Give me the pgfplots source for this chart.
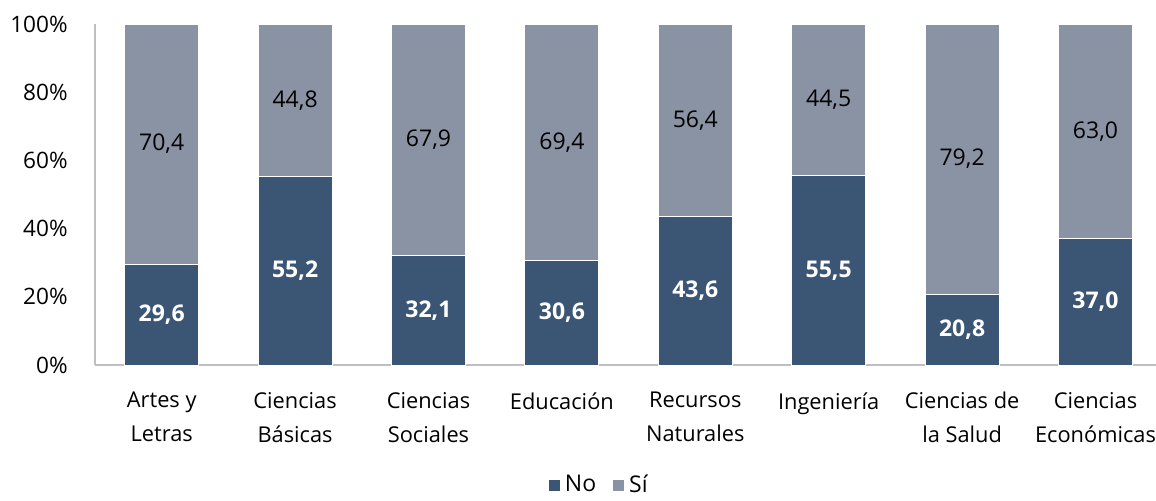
\documentclass[border=0pt]{standalone}
\usepackage{pgfplots}
\pgfplotsset{compat=1.18}
\usepackage{fontspec}
\setmainfont{Open Sans}
\definecolor{cno}{HTML}{3B5575}
\definecolor{csi}{HTML}{8A93A3}
\definecolor{axgray}{HTML}{BFBFBF}
\begin{document}
\begin{tikzpicture}[font=\fontsize{11.3pt}{13pt}\selectfont]
\begin{axis}[
  scale only axis,
  width=533.6pt, height=170.5pt,
  ybar stacked,
  bar width=37pt,
  xmin=-0.5, xmax=7.5,
  ymin=0, ymax=100,
  axis lines=left,
  axis line style={axgray, line width=0.8pt, -},
  xtick=data,
  xtick style={draw=none},
  ytick={0,20,40,60,80,100},
  ytick style={draw=none},
  yticklabel={\pgfmathprintnumber[fixed,precision=0]{\tick}\%},
  /pgf/number format/assume math mode=true,
  yticklabel style={xshift=-8pt, font=\fontsize{11.3pt}{13pt}\selectfont},
  xticklabels={{Artes y\\Letras},{Ciencias\\Básicas},{Ciencias\\Sociales},{Educación},{Recursos\\Naturales},{Ingeniería},{Ciencias de\\la Salud},{Ciencias\\Económicas}},
  xticklabel style={align=center, font=\fontsize{10.9pt}{17pt}\selectfont, yshift=-8pt},
  clip=false,
  nodes near coords={\pgfmathprintnumber[fixed,fixed zerofill,precision=1,use comma]{\pgfplotspointmeta}},
  point meta=explicit,
  every node near coord/.append style={anchor=center},
  legend style={at={(0.473,-0.352)}, anchor=center, draw=none, legend columns=2,
    /tikz/every even column/.append style={column sep=6pt}, font=\fontsize{11.5pt}{12pt}\selectfont},
  legend image code/.code={\fill[#1] (0pt,-3pt) rectangle (6pt,3pt);},
]
\addplot[fill=cno, draw=white, line width=0.5pt,
  every node near coord/.append style={text=white, font=\fontsize{11.5pt}{13pt}\selectfont\bfseries}]
  coordinates {(0,29.6)[29.6] (1,55.2)[55.2] (2,32.1)[32.1] (3,30.6)[30.6] (4,43.6)[43.6] (5,55.5)[55.5] (6,20.8)[20.8] (7,37.0)[37.0]};
\addplot[fill=csi, draw=white, line width=0.5pt,
  every node near coord/.append style={text=black, font=\fontsize{11.5pt}{13pt}\selectfont}]
  coordinates {(0,70.4)[70.4] (1,44.8)[44.8] (2,67.9)[67.9] (3,69.4)[69.4] (4,56.4)[56.4] (5,44.5)[44.5] (6,79.2)[79.2] (7,63.0)[63.0]};
\legend{No,Sí}
\end{axis}
\pgfresetboundingbox
\path[use as bounding box] (-47.5pt,-67.5pt) rectangle (530.5pt,182.5pt);
\end{tikzpicture}
\end{document}
